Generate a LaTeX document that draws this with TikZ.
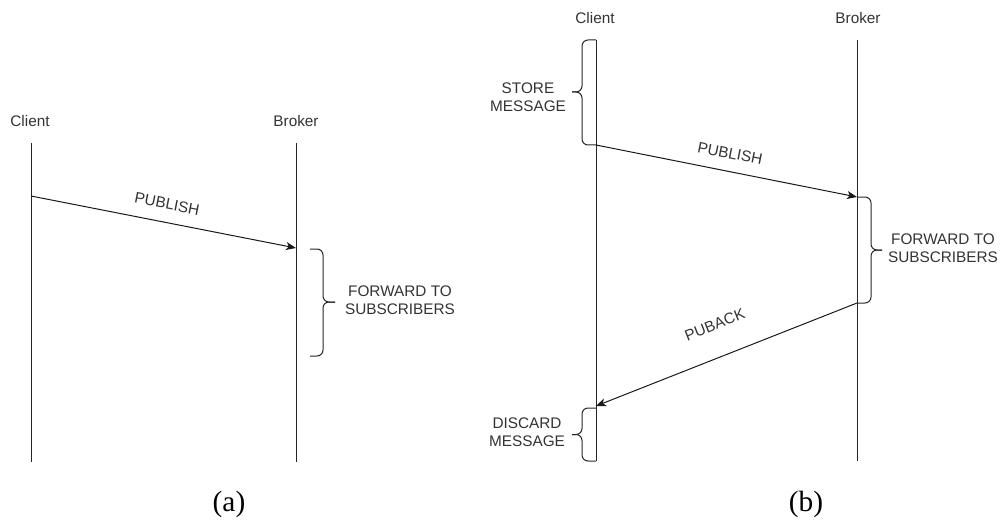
\documentclass[tikz,border=0pt]{standalone}
\usepackage{fontspec}
\setmainfont{Liberation Sans}
\newfontfamily\capfont{Liberation Serif}
\usetikzlibrary{arrows.meta}
\begin{document}
\begin{tikzpicture}[x=0.75pt,y=-0.75pt,
  life/.style={line width=0.75pt, draw=black!85},
  msg/.style={line width=0.75pt, draw=black!90, -{Stealth[length=7.5pt,width=6pt,inset=2pt]}},
  brc/.style={line width=0.75pt, draw=black!85, rounded corners=4.5pt},
  lbl/.style={font=\fontsize{11.5}{13.5}\selectfont, text=black!80, inner sep=0pt, align=center},
  captext/.style={font=\capfont\fontsize{22}{26}\selectfont, inner sep=0pt}]
\useasboundingbox (0,0) rectangle (1005,524);

% ---------- panel (a) ----------
\node[lbl] (aC) at (30,121) {Client};
\node[lbl] (aB) at (296,121) {Broker};
\coordinate (aCt) at (31,143);  \coordinate (aCb) at (31,462);
\coordinate (aBt) at (296,143); \coordinate (aBb) at (296,462);
\draw[life] (aCt) -- (aCb);
\draw[life] (aBt) -- (aBb);
\coordinate (aP1) at (31,196); \coordinate (aP2) at (296,248);
\draw[msg] (aP1) -- node[lbl, sloped, yshift=14pt] (aPl) {PUBLISH} (aP2);
% brace
\draw[brc] (310,249) -- (323,249) -- (323,302) -- (335,302);
\draw[brc] (335,302) -- (323,302) -- (323,356) -- (310,356);
\node[lbl] (aF) at (400,300) {FORWARD TO\\SUBSCRIBERS};
\node[captext] (capA) at (229,504) {(a)};

% ---------- panel (b) ----------
\node[lbl] (bC) at (595,18) {Client};
\node[lbl] (bB) at (858,18) {Broker};
\coordinate (bCt) at (596,40);  \coordinate (bCb) at (596,461);
\coordinate (bBt) at (857,40);  \coordinate (bBb) at (857,461);
\draw[life] (bCt) -- (bCb);
\draw[life] (bBt) -- (bBb);
% store message brace
\draw[brc] (596,40) -- (582,40) -- (582,92) -- (572,92);
\draw[brc] (572,92) -- (582,92) -- (582,145) -- (596,145);
\node[lbl] (bS) at (528,97) {STORE\\MESSAGE};
% publish
\coordinate (bP1) at (596,145); \coordinate (bP2) at (857,197);
\draw[msg] (bP1) -- node[lbl, sloped, yshift=13.5pt] (bPl) {PUBLISH} (bP2);
% forward brace
\draw[brc] (857,197) -- (871,197) -- (871,250) -- (882,250);
\draw[brc] (882,250) -- (871,250) -- (871,303) -- (857,303);
\node[lbl] (bF) at (943,248) {FORWARD TO\\SUBSCRIBERS};
% puback
\coordinate (bA1) at (857,303); \coordinate (bA2) at (596,406);
\draw[msg] (bA1) -- node[lbl, sloped, yshift=24pt] (bAl) {PUBACK} (bA2);
% discard brace
\draw[brc] (596,408) -- (582,408) -- (582,434.5) -- (572,434.5);
\draw[brc] (572,434.5) -- (582,434.5) -- (582,461) -- (596,461);
\node[lbl] (bD) at (527,432) {DISCARD\\MESSAGE};
\node[captext] (capB) at (806,504) {(b)};
\end{tikzpicture}
\end{document}
